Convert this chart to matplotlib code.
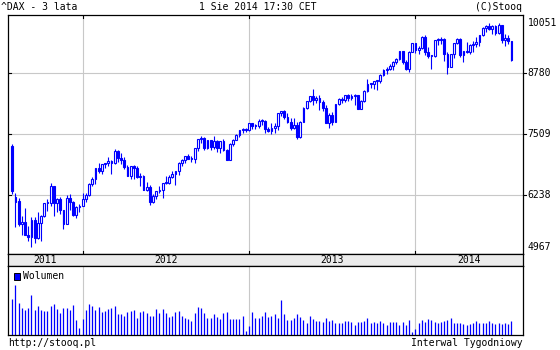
import matplotlib
matplotlib.use('Agg')
import matplotlib.pyplot as plt
from matplotlib.patches import Rectangle
import numpy as np

# ---------------- data (weekly DAX, Aug 2011 - Aug 2014) ----------------
opens = [7250, 6100, 6000, 5480, 5538, 5246, 5189, 5574, 5164, 5502,
         5675, 5967, 5971, 6346, 5966, 6057, 5800, 5493, 6080, 5986,
         5702, 5878, 5898, 6057, 6143, 6404, 6511, 6766, 6692, 6849,
         6864, 6922, 6880, 7157, 6996, 6947, 6775, 6583, 6801, 6762,
         6561, 6579, 6271, 6339, 5978, 6130, 6229, 6263, 6416, 6410,
         6558, 6630, 6690, 6865, 6945, 7040, 6972, 6970, 7214, 7412,
         7451, 7216, 7398, 7233, 7380, 7203, 7363, 7163, 6950, 7309,
         7405, 7518, 7614, 7636, 7612, 7776, 7716, 7702, 7833, 7833,
         7652, 7593, 7661, 7708, 8005, 8043, 7912, 7795, 7659, 7745,
         7459, 7814, 8122, 8279, 8399, 8306, 8349, 8255, 8127, 7789,
         7959, 7806, 8213, 8332, 8308, 8409, 8338, 8390, 8416, 8104,
         8275, 8510, 8675, 8661, 8725, 8725, 8869, 8977, 9010, 9079,
         9168, 9226, 9406, 9172, 9006, 9400, 9589, 9435, 9473, 9742,
         9392, 9306, 9301, 9663, 9657, 9692, 9350, 9056, 9342, 9587,
         9695, 9315, 9409, 9401, 9556, 9581, 9630, 9768, 9943, 9987,
         9913, 9987, 9815, 10009, 9666, 9720, 9644]
highs = [7300, 6200, 6075, 5660, 5860, 5450, 5640, 5650, 5750, 5700,
         5970, 6050, 6430, 6350, 6080, 6100, 5800, 6150, 6160, 6000,
         5900, 5950, 6200, 6200, 6420, 6550, 6770, 6870, 6860, 6880,
         7000, 6950, 7190, 7160, 7090, 7010, 6830, 6810, 6830, 6800,
         6640, 6600, 6440, 6380, 6170, 6230, 6350, 6430, 6580, 6600,
         6700, 6700, 6900, 6960, 7030, 7080, 7030, 7220, 7420, 7480,
         7460, 7400, 7400, 7480, 7400, 7380, 7420, 7180, 7320, 7420,
         7540, 7630, 7670, 7660, 7780, 7780, 7760, 7880, 7870, 7840,
         7700, 7780, 7780, 8010, 8060, 8080, 8000, 7890, 7890, 7800,
         7830, 8140, 8290, 8400, 8560, 8400, 8420, 8300, 8200, 8000,
         8020, 8220, 8360, 8370, 8420, 8430, 8440, 8430, 8420, 8300,
         8520, 8770, 8690, 8740, 8740, 8890, 9000, 9050, 9120, 9180,
         9260, 9420, 9410, 9220, 9420, 9600, 9600, 9520, 9760, 9790,
         9500, 9320, 9670, 9700, 9730, 9710, 9400, 9350, 9600, 9720,
         9700, 9420, 9620, 9580, 9640, 9740, 9790, 9960, 10010, 10050,
         10000, 10000, 10051, 10010, 9800, 9780, 9650]
lows = [6180, 5430, 5450, 5250, 5240, 5100, 4967, 5060, 5150, 5100,
        5640, 5780, 5900, 5680, 5750, 5725, 5366, 5480, 5800, 5680,
        5630, 5770, 5900, 5980, 6120, 6340, 6400, 6640, 6630, 6760,
        6810, 6630, 6860, 6900, 6850, 6740, 6580, 6500, 6510, 6540,
        6350, 6260, 6230, 5910, 5970, 6060, 6200, 6090, 6390, 6390,
        6540, 6380, 6600, 6800, 6880, 6960, 6900, 6880, 7140, 7330,
        7170, 7180, 7160, 7200, 7130, 7090, 7140, 6950, 6950, 7270,
        7400, 7470, 7560, 7580, 7600, 7640, 7640, 7660, 7740, 7560,
        7570, 7540, 7560, 7630, 7930, 7870, 7770, 7630, 7640, 7420,
        7440, 7800, 8100, 8250, 8200, 8240, 8080, 8050, 7780, 7660,
        7730, 7800, 8180, 8230, 8250, 8270, 8300, 8200, 8100, 8100,
        8250, 8490, 8570, 8560, 8520, 8700, 8850, 8900, 8980, 8990,
        9120, 9220, 9110, 8990, 8950, 9400, 9380, 9350, 9470, 9330,
        9250, 9000, 9280, 9550, 9580, 9200, 8900, 9050, 9250, 9580,
        9280, 9170, 9380, 9350, 9400, 9500, 9520, 9760, 9850, 9890,
        9800, 9780, 9800, 9600, 9520, 9570, 9200]
closes = [6236, 5998, 5480, 5538, 5246, 5189, 5574, 5164, 5502, 5675,
          5967, 5971, 6346, 5966, 6057, 5800, 5493, 6080, 5986, 5702,
          5878, 5898, 6057, 6143, 6404, 6511, 6766, 6692, 6849, 6864,
          6922, 6880, 7157, 6996, 6947, 6775, 6583, 6801, 6762, 6561,
          6579, 6271, 6339, 5978, 6130, 6229, 6263, 6416, 6410, 6558,
          6630, 6690, 6865, 6945, 7040, 6972, 6970, 7214, 7412, 7451,
          7216, 7398, 7233, 7380, 7203, 7363, 7163, 6950, 7309, 7405,
          7518, 7614, 7636, 7612, 7776, 7716, 7702, 7833, 7833, 7652,
          7593, 7661, 7708, 8005, 8043, 7912, 7795, 7659, 7745, 7459,
          7814, 8122, 8279, 8399, 8306, 8349, 8255, 8127, 7789, 7959,
          7806, 8213, 8332, 8308, 8409, 8338, 8390, 8416, 8104, 8275,
          8510, 8675, 8661, 8725, 8725, 8869, 8977, 9010, 9079, 9168,
          9226, 9406, 9172, 9006, 9400, 9589, 9435, 9473, 9742, 9392,
          9306, 9301, 9663, 9657, 9692, 9350, 9056, 9342, 9587, 9695,
          9315, 9409, 9401, 9556, 9581, 9630, 9768, 9943, 9987, 9913,
          9987, 9815, 10009, 9666, 9720, 9644, 9210]
volumes = [105, 149, 95, 78, 72, 80, 117, 72, 84, 74, 69, 69, 84, 90, 77, 64,
           80, 78, 72, 87, 45, 19,
           48, 72, 90, 86, 72, 81, 67, 70, 77, 80, 84, 60, 60, 55, 67, 69, 72,
           51, 66, 70, 64, 57, 57, 75, 63, 75, 65, 54, 57, 66, 69, 57, 50, 47,
           42, 64, 81, 80, 64, 50, 49, 60, 52, 48, 64, 66, 46, 46, 46, 46, 55, 12,
           27, 66, 51, 51, 55, 66, 52, 57, 60, 49, 102, 60, 45, 43, 51, 62, 53,
           43, 35, 55, 47, 42, 40, 37, 50, 40, 45, 36, 36, 36, 42, 42, 38, 29,
           37, 38, 40, 50, 36, 38, 35, 42, 36, 30, 39, 39, 37, 30, 38, 28, 44, 8,
           18, 35, 44, 39, 47, 44, 37, 35, 38, 41, 45, 49, 34, 35, 36, 31, 30,
           32, 36, 40, 35, 34, 36, 40, 34, 33, 36, 33, 34, 31, 42]
year_labels = ['2011', '2012', '2013', '2014']
year_first_week = [22, 74, 126]          # index of first weekly bar of 2012, 2013, 2014
price_min, price_max = 4967, 10051
mid_labels = ['8780', '7509', '6238']

n = len(closes)
for arr in (opens, highs, lows, volumes):
    if len(arr) != n:
        raise SystemExit('length mismatch %d vs %d' % (len(arr), n))

BLUE = '#0000ff'
GRID = '#c8c8c8'
FONT = 'DejaVu Sans Mono'
FS = 7
plt.rcParams['font.family'] = [FONT]

W, H = 560, 350
fig = plt.figure(figsize=(W / 100, H / 100), dpi=100)
fig.patch.set_facecolor('white')


def rect(x0, y0, x1, y1):
    return [x0 / W, 1 - y1 / H, (x1 - x0) / W, (y1 - y0) / H]


XL, XR = 8, 523.3
PT, PB = 15.3, 254.3
BB = 266
VB = 334.7
ax = fig.add_axes(rect(XL, PT, XR, PB))
axb = fig.add_axes(rect(XL, PB, XR, BB))
axv = fig.add_axes(rect(XL, BB, XR, VB))

xlim = (-1.34, 159.7)
idx = np.arange(n)

# ---------------- price panel ----------------
o = np.array(opens, float)
c = np.array(closes, float)
hi = np.array(highs, float)
lo = np.array(lows, float)
ax.set_xlim(*xlim)
ax.set_ylim(4801, 10226)

for f in (0.757, 0.502, 0.248):
    ax.plot([0, 1], [f, f], transform=ax.transAxes, color=GRID, lw=0.8, zorder=1)
    ax.plot([0, 0.006], [f, f], transform=ax.transAxes, color='black', lw=0.8, zorder=5)
    ax.plot([1, 1.006], [f, f], transform=ax.transAxes, color='black', lw=0.8,
            zorder=5, clip_on=False)
for k in year_first_week:
    ax.axvline(k, color=GRID, lw=0.8, zorder=1)
    ax.plot([k, k], [0, 0.013], transform=ax.get_xaxis_transform(), color='black', lw=0.8, zorder=5)
    ax.plot([k, k], [0.987, 1], transform=ax.get_xaxis_transform(), color='black', lw=0.8, zorder=5)

ax.vlines(idx, lo, hi, color=BLUE, lw=0.8, zorder=2)
up = c >= o
bot = np.minimum(o, c)
hgt = np.maximum(np.abs(c - o), 25)
ax.bar(idx[up], hgt[up], bottom=bot[up], width=0.6, facecolor='white',
       edgecolor=BLUE, linewidth=0.8, zorder=3)
ax.bar(idx[~up], hgt[~up], bottom=bot[~up], width=0.6, facecolor=BLUE,
       edgecolor=BLUE, linewidth=0.8, zorder=3)

ax.set_xticks([])
ax.set_yticks([])
for s in ax.spines.values():
    s.set_color('black')
    s.set_linewidth(0.9)

# right-side labels
fracs = (0.757, 0.502, 0.248)
for lab, f in zip(mid_labels, fracs):
    ax.text(1.008, f, lab, transform=ax.transAxes, ha='left', va='center',
            fontsize=FS, fontfamily=FONT)
tr = ax.get_yaxis_transform()
ax.text(1.008, price_max, str(price_max), transform=tr, ha='left', va='center',
        fontsize=FS, fontfamily=FONT, clip_on=False)
ax.text(1.008, price_min, str(price_min), transform=tr, ha='left', va='center',
        fontsize=FS, fontfamily=FONT, clip_on=False)

# ---------------- year band ----------------
axb.set_xlim(*xlim)
axb.set_ylim(0, 1)
axb.set_facecolor('#ebebeb')
axb.set_xticks([])
axb.set_yticks([])
for s in axb.spines.values():
    s.set_color('black')
    s.set_linewidth(0.9)
edges = [xlim[0]] + year_first_week + [xlim[1]]
for lab, a, b in zip(year_labels, edges[:-1], edges[1:]):
    axb.text((a + b) / 2, 0.5, lab, ha='center', va='center', fontsize=FS,
             fontfamily=FONT)

# ---------------- volume panel ----------------
axv.set_xlim(*xlim)
axv.set_ylim(0, 204)
for k in year_first_week:
    axv.axvline(k, color=GRID, lw=0.8, zorder=1)
axv.vlines(idx, 0, volumes, color=BLUE, lw=0.9, zorder=2)
axv.set_xticks([])
axv.set_yticks([])
for s in axv.spines.values():
    s.set_color('black')
    s.set_linewidth(0.9)

# legend
fig.patches.append(Rectangle((14.3 / W, 1 - 279.5 / H), 5.8 / W, 6.5 / H,
                             transform=fig.transFigure, facecolor=BLUE,
                             edgecolor='black', linewidth=0.7))
fig.text(23.5 / W, 1 - 276 / H, 'Wolumen', ha='left', va='center', fontsize=FS,
         fontfamily=FONT)

# ---------------- header / footer ----------------
fig.text(1 / W, 1 - 6.5 / H, '^DAX - 3 lata', ha='left', va='center', fontsize=FS, fontfamily=FONT)
fig.text(258 / W, 1 - 6.5 / H, '1 Sie 2014 17:30 CET', ha='center', va='center', fontsize=FS, fontfamily=FONT)
fig.text(522 / W, 1 - 6.5 / H, '(C)Stooq', ha='right', va='center', fontsize=FS, fontfamily=FONT)
fig.text(8 / W, 1 - 343.5 / H, 'http://stooq.pl', ha='left', va='center', fontsize=FS, fontfamily=FONT)
fig.text(523 / W, 1 - 343.5 / H, 'Interwal Tygodniowy', ha='right', va='center', fontsize=FS, fontfamily=FONT)

fig.savefig('out.png', dpi=100, facecolor='white')
